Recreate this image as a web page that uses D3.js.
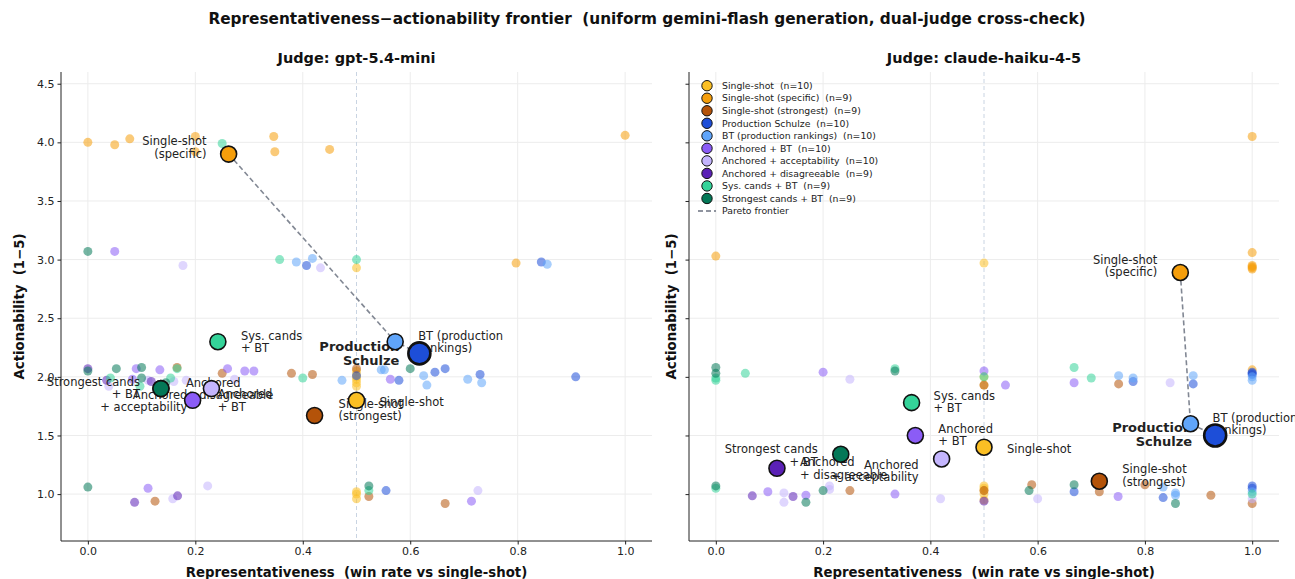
<!DOCTYPE html>
<html><head><meta charset="utf-8">
<script src="https://cdn.jsdelivr.net/npm/d3@7"></script>
<style>
body{margin:0;background:#fff}
svg{display:block}
text{font-family:"DejaVu Sans",sans-serif;white-space:pre}
</style>
</head><body><svg id="c" width="1295" height="579"></svg>
<script>
// ---------------- DATA ----------------
const seriesCodes  = ["SS","SP","ST","PS","BT","AB","AA","AD","SC","SB"];
const seriesNames  = ["Single-shot","Single-shot (specific)","Single-shot (strongest)","Production Schulze",
  "BT (production rankings)","Anchored + BT","Anchored + acceptability","Anchored + disagreeable",
  "Sys. cands + BT","Strongest cands + BT"];
const seriesCounts = [10,9,9,10,10,10,10,9,9,9];
const seriesLabelLines = {
  SS:["Single-shot"], SP:["Single-shot","(specific)"], ST:["Single-shot","(strongest)"],
  PS:["Production","Schulze"], BT:["BT (production","rankings)"], AB:["Anchored","+ BT"],
  AA:["Anchored","+ acceptability"], AD:["Anchored","+ disagreeable"], SC:["Sys. cands","+ BT"],
  SB:["Strongest cands","+ BT"]
};
const xTicks = [0.0,0.2,0.4,0.6,0.8,1.0];
const yTicks = [1.0,1.5,2.0,2.5,3.0,3.5,4.0,4.5];
const panelTitles = ["Judge: gpt-5.4-mini","Judge: claude-haiku-4-5"];

// per-series means (order = seriesCodes)
const gptMeanX   = [0.500,0.262,0.422,0.617,0.572,0.195,0.230,0.136,0.242,0.136];
const gptMeanY   = [1.80, 3.90, 1.67, 2.20, 2.30, 1.80, 1.90, 1.90, 2.30, 1.90];
const haikuMeanX = [0.500,0.866,0.715,0.931,0.885,0.372,0.421,0.114,0.365,0.233];
const haikuMeanY = [1.40, 2.89, 1.11, 1.50, 1.60, 1.50, 1.30, 1.22, 1.78, 1.34];
const gptFrontier   = ["SP","BT","PS"];
const haikuFrontier = ["SP","BT","PS"];

// per-run points [series, x, y]
const gptRuns = [
  ["SS",0.5,2.93],["SS",0.5,2.02],["SS",0.5,2.00],["SS",0.5,1.92],["SS",0.5,1.95],["SS",0.5,1.02],["SS",0.5,0.96],["SS",0.5,1.00],["SS",0.5,2.05],["SS",0.5,1.98],
  ["SP",0.0,4.00],["SP",0.05,3.98],["SP",0.078,4.03],["SP",0.2,4.05],["SP",0.2,3.92],["SP",0.346,4.05],["SP",0.348,3.92],["SP",0.45,3.94],["SP",1.0,4.06],["SP",0.797,2.97],
  ["ST",0.5,2.07],["ST",0.25,2.03],["ST",0.379,2.03],["ST",0.418,2.02],["ST",0.523,0.98],["ST",0.125,0.94],["ST",0.665,0.92],["ST",0.166,2.08],
  ["PS",0.407,2.95],["PS",0.844,2.98],["PS",0.579,1.97],["PS",0.646,2.04],["PS",0.665,2.07],["PS",0.73,2.02],["PS",0.908,2.00],["PS",0.555,1.03],["PS",0.5,2.01],
  ["BT",0.388,2.98],["BT",0.418,3.01],["BT",0.855,2.96],["BT",0.473,1.97],["BT",0.546,2.06],["BT",0.552,2.06],["BT",0.625,2.01],["BT",0.631,1.93],["BT",0.707,1.98],["BT",0.733,1.95],
  ["AB",0.05,3.07],["AB",0.09,2.07],["AB",0.083,1.98],["AB",0.26,2.07],["AB",0.292,2.05],["AB",0.309,2.05],["AB",0.563,1.98],["AB",0.714,0.94],["AB",0.112,1.05],["AB",0.134,2.06],
  ["AA",0.177,2.95],["AA",0.433,2.93],["AA",0.039,1.92],["AA",0.112,1.97],["AA",0.16,1.96],["AA",0.183,1.97],["AA",0.273,1.98],["AA",0.158,0.96],["AA",0.223,1.07],["AA",0.726,1.03],
  ["AD",0.0,2.07],["AD",0.035,1.97],["AD",0.118,1.96],["AD",0.087,0.93],["AD",0.167,0.985],
  ["SC",0.25,3.99],["SC",0.357,3.00],["SC",0.5,3.00],["SC",0.042,1.99],["SC",0.154,1.99],["SC",0.166,2.07],["SC",0.4,1.99],["SC",0.523,1.03],["SC",0.097,1.92],
  ["SB",0.0,3.07],["SB",0.0,2.05],["SB",0.053,2.07],["SB",0.1,2.08],["SB",0.1,1.99],["SB",0.6,2.07],["SB",0.0,1.06],["SB",0.523,1.07],["SB",0.145,1.95]
];
const haikuRuns = [
  ["SS",0.5,2.97],["SS",0.5,1.07],["SS",0.5,1.00],["SS",0.5,1.03],["SS",0.5,0.95],["SS",0.5,2.00],["SS",0.5,1.05],["SS",0.5,1.93],
  ["SP",0.0,3.03],["SP",1.0,4.05],["SP",1.0,3.06],["SP",1.0,2.95],["SP",1.0,2.94],["SP",1.0,2.92],["SP",1.0,2.06],["SP",1.0,2.93],
  ["ST",0.5,1.93],["ST",0.751,1.94],["ST",0.25,1.03],["ST",0.589,1.08],["ST",0.715,1.02],["ST",0.80,1.08],["ST",0.923,0.99],["ST",1.0,0.92],["ST",0.5,1.03],
  ["PS",1.0,2.04],["PS",1.0,2.02],["PS",0.89,1.94],["PS",0.778,1.96],["PS",0.834,0.97],["PS",1.0,1.07],["PS",0.668,1.02],["PS",1.0,2.03],["PS",1.0,1.05],
  ["BT",0.751,2.01],["BT",0.778,1.99],["BT",0.89,2.01],["BT",1.0,2.00],["BT",1.0,1.97],["BT",0.834,1.06],["BT",0.857,1.01],["BT",0.857,0.99],["BT",1.0,1.02],
  ["AB",0.2,2.04],["AB",0.5,2.05],["AB",0.54,1.93],["AB",0.668,1.95],["AB",0.75,0.98],["AB",0.334,1.00],["AB",0.097,1.02],["AB",0.168,0.99],
  ["AA",0.25,1.98],["AA",0.847,1.95],["AA",0.127,1.01],["AA",0.127,0.93],["AA",0.212,1.07],["AA",0.212,1.04],["AA",0.419,0.96],["AA",0.6,0.96],["AA",1.0,0.96],
  ["AD",0.068,0.985],["AD",0.144,0.98],["AD",0.5,0.94],
  ["SC",0.0,1.99],["SC",0.0,1.97],["SC",0.055,2.03],["SC",0.334,2.07],["SC",0.5,2.00],["SC",0.668,2.08],["SC",0.70,1.99],["SC",0.0,1.05],["SC",1.0,1.00],
  ["SB",0.0,2.08],["SB",0.0,2.03],["SB",0.334,2.05],["SB",0.168,0.93],["SB",0.2,1.03],["SB",0.584,1.03],["SB",0.668,1.08],["SB",0.857,0.92],["SB",0.0,1.07]
];

// ---------------- STYLE / LAYOUT ----------------
const seriesColors = ["#fbbf24","#f59e0b","#b45309","#1d4ed8","#60a5fa","#8b5cf6","#c4b5fd","#5b21b6","#34d399","#047857"];
const color = c => seriesColors[seriesCodes.indexOf(c)];
// label layout: [anchor, dx, first-line dy]
const gptLabelLayout = {
  SS:["start",23,2], SP:["end",-22,-13], ST:["start",24,-12], PS:["end",-20,-7], BT:["start",23,-6],
  AB:["start",25,-6], AA:["end",-24,6], AD:["start",25,-6], SC:["start",23,-6], SB:["end",-21,-7]
};
const haikuLabelLayout = {
  SS:["start",23,2], SP:["end",-23,-13], ST:["start",23,-12], PS:["end",-23,-8], BT:["start",22,-6],
  AB:["start",23,-7], AA:["end",-23,6], AD:["start",23,-6], SC:["start",22,-7], SB:["end",-23,-5]
};

const svg = d3.select("#c");
svg.append("text").attr("x",647).attr("y",24).attr("text-anchor","middle")
  .attr("font-size",15.3).attr("font-weight","bold").attr("fill","#111")
  .text("Representativeness\u2212actionability frontier  (uniform gemini-flash generation, dual-judge cross-check)");

const panels = [
  {x0:61,x1:652,meanX:gptMeanX,meanY:gptMeanY,runs:gptRuns,front:gptFrontier,lay:gptLabelLayout,title:panelTitles[0],ylabels:true,ylx:20,legend:false},
  {x0:689,x1:1279,meanX:haikuMeanX,meanY:haikuMeanY,runs:haikuRuns,front:haikuFrontier,lay:haikuLabelLayout,title:panelTitles[1],ylabels:false,ylx:672,legend:true}
];
const Y0=72, Y1=541;

panels.forEach(p=>{
  const x = d3.scaleLinear().domain([-0.05,1.05]).range([p.x0,p.x1]);
  const y = d3.scaleLinear().domain([0.6,4.6]).range([Y1,Y0]);
  const g = svg.append("g");
  // grid
  g.selectAll(".gx").data(xTicks).join("line").attr("x1",d=>x(d)).attr("x2",d=>x(d))
    .attr("y1",Y0).attr("y2",Y1).attr("stroke","#ececec").attr("stroke-width",1);
  g.selectAll(".gy").data(yTicks).join("line").attr("y1",d=>y(d)).attr("y2",d=>y(d))
    .attr("x1",p.x0).attr("x2",p.x1).attr("stroke","#ececec").attr("stroke-width",1);
  // x=0.5 reference
  g.append("line").attr("x1",x(0.5)).attr("x2",x(0.5)).attr("y1",Y0).attr("y2",Y1)
    .attr("stroke","#c9d4e2").attr("stroke-width",1).attr("stroke-dasharray","4,3");
  // axes
  const xa = g.append("g").attr("transform",`translate(0,${Y1})`)
    .call(d3.axisBottom(x).tickValues(xTicks).tickFormat(d3.format(".1f")).tickSize(3.5).tickSizeOuter(0));
  const ya = g.append("g").attr("transform",`translate(${p.x0},0)`)
    .call(d3.axisLeft(y).tickValues(yTicks).tickFormat(p.ylabels?d3.format(".1f"):"").tickSize(3.5).tickSizeOuter(0));
  [xa,ya].forEach(a=>{
    a.select(".domain").attr("stroke","#222").attr("stroke-width",1);
    a.selectAll(".tick line").attr("stroke","#222");
    a.selectAll(".tick text").attr("font-family","DejaVu Sans").attr("font-size",11).attr("fill","#222");
  });
  xa.select(".domain").attr("d",`M${p.x0},0H${p.x1}`);
  ya.select(".domain").attr("d",`M0,${Y0}V${Y1}`);
  // titles
  g.append("text").attr("x",(p.x0+p.x1)/2).attr("y",63).attr("text-anchor","middle")
    .attr("font-size",14.5).attr("font-weight","bold").attr("fill","#111").text(p.title);
  g.append("text").attr("x",(p.x0+p.x1)/2).attr("y",577).attr("text-anchor","middle")
    .attr("font-size",13.3).attr("font-weight","bold").attr("fill","#111").text("Representativeness  (win rate vs single-shot)");
  g.append("text").attr("transform",`translate(${p.ylx+4},${(Y0+Y1)/2}) rotate(-90)`).attr("text-anchor","middle")
    .attr("font-size",13.3).attr("font-weight","bold").attr("fill","#111").text("Actionability  (1\u22125)");
  // runs
  g.selectAll(".run").data(p.runs).join("circle")
    .attr("cx",d=>x(d[1])).attr("cy",d=>y(d[2])).attr("r",4.5)
    .attr("fill",d=>color(d[0])).attr("fill-opacity",0.55);
  // frontier
  const fpts = p.front.map(c=>{const i=seriesCodes.indexOf(c);return [p.meanX[i],p.meanY[i]];});
  g.append("path").attr("d",d3.line().x(d=>x(d[0])).y(d=>y(d[1]))(fpts))
    .attr("fill","none").attr("stroke","#6b7280").attr("stroke-opacity",0.85).attr("stroke-width",1.6).attr("stroke-dasharray","5,3");
  // labels
  seriesCodes.forEach((c,i)=>{
    const L = p.lay[c]; const mx=x(p.meanX[i]), my=y(p.meanY[i]);
    const bold = c==="PS";
    const t = g.append("text").attr("text-anchor",L[0]).attr("font-size",bold?13:11.5)
      .attr("font-weight",bold?"bold":"normal").attr("fill","#222");
    seriesLabelLines[c].forEach((ln,k)=>{
      t.append("tspan").attr("x",mx+L[1]).attr("y",my+L[2]+k*(bold?14:12.5)).attr("dy","0.35em").text(ln);
    });
  });
  // mean markers
  seriesCodes.forEach((c,i)=>{
    const big = c==="PS";
    g.append("circle").attr("cx",x(p.meanX[i])).attr("cy",y(p.meanY[i])).attr("r",big?11:8)
      .attr("fill",seriesColors[i]).attr("stroke","#111").attr("stroke-width",big?2.6:1.6);
  });
  // legend
  if(p.legend){
    const lg = g.append("g");
    seriesCodes.forEach((c,i)=>{
      const yy = 85.7 + i*12.53;
      lg.append("circle").attr("cx",707).attr("cy",yy).attr("r",5.2).attr("fill",seriesColors[i]).attr("stroke","#111").attr("stroke-width",1);
      lg.append("text").attr("x",722).attr("y",yy).attr("dy","0.35em").attr("font-size",9.3).attr("fill","#222")
        .text(`${seriesNames[i]}  (n=${seriesCounts[i]})`);
    });
    const yy = 85.7 + 10*12.53;
    lg.append("line").attr("x1",698).attr("x2",716).attr("y1",yy).attr("y2",yy)
      .attr("stroke","#6b7280").attr("stroke-width",1.6).attr("stroke-dasharray","5,3");
    lg.append("text").attr("x",722).attr("y",yy).attr("dy","0.35em").attr("font-size",9.3).attr("fill","#222").text("Pareto frontier");
  }
});
</script></body></html>
